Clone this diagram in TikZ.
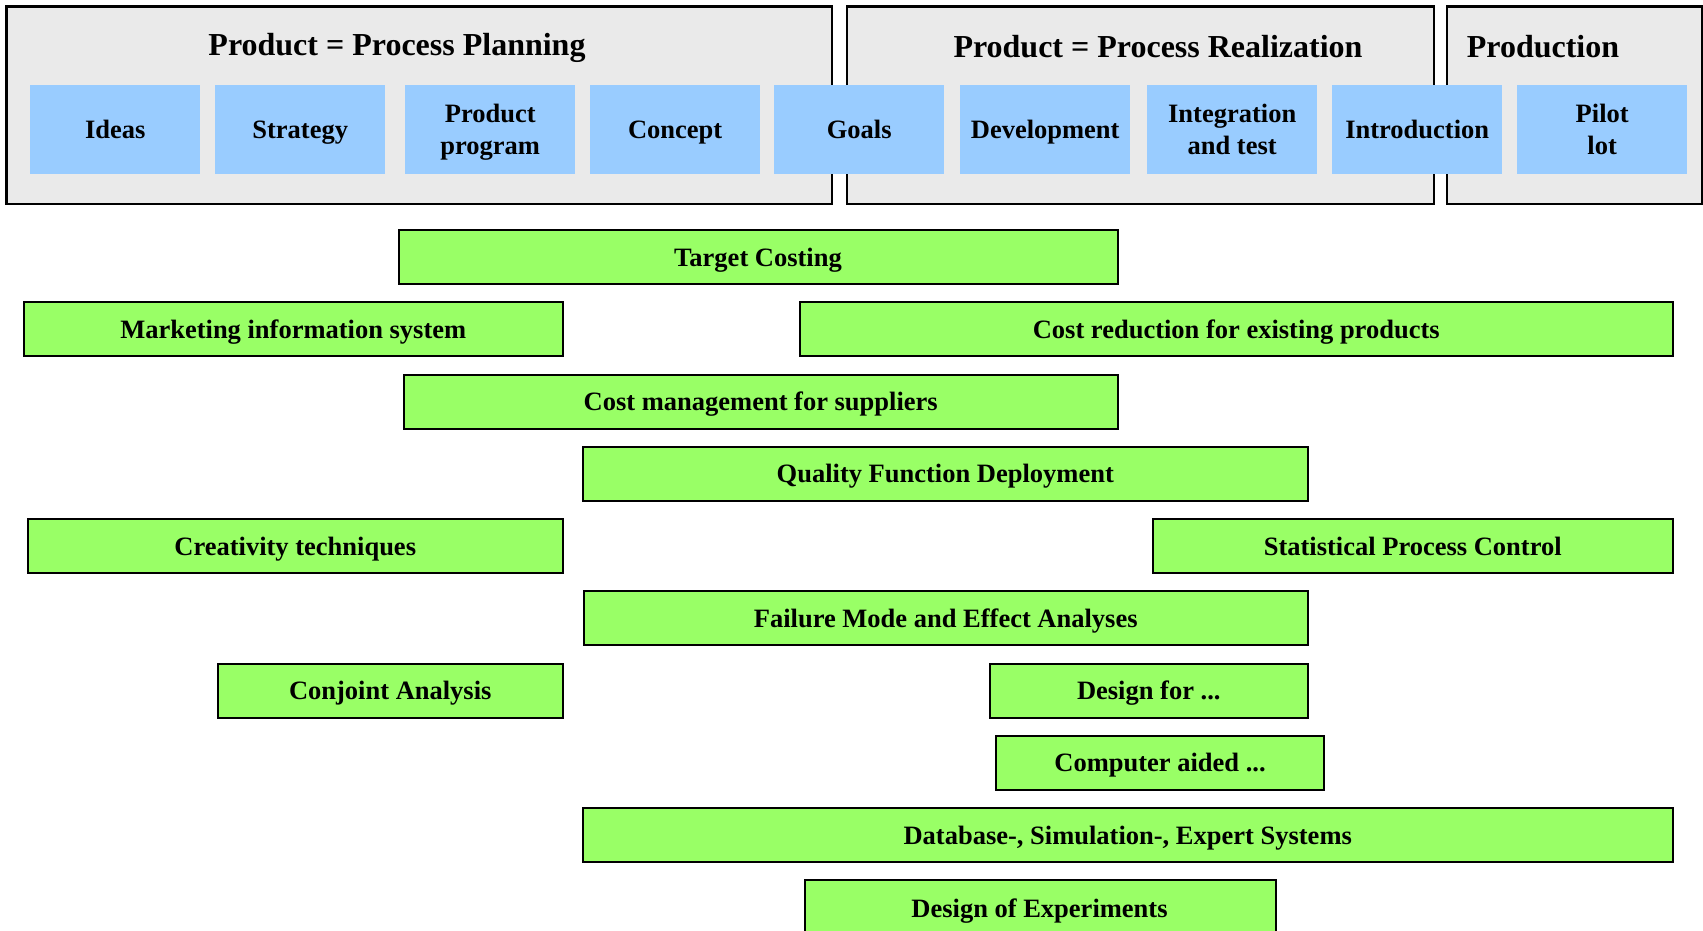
\documentclass[tikz,border=0pt]{standalone}
\usepackage{fontspec}
\setmainfont{Liberation Serif}
\definecolor{panelgray}{HTML}{EAEAEA}
\definecolor{stageblue}{HTML}{99CCFF}
\definecolor{toolgreen}{HTML}{99FF66}
\begin{document}
\begin{tikzpicture}[x=1pt,y=-1pt,
  panel/.style={draw=black,fill=panelgray,line width=2.5pt},
  paneltitle/.style={font=\fontsize{32}{36}\selectfont\bfseries,inner sep=0pt,text height=22pt,text depth=7pt},
  stage/.style={fill=stageblue,draw=none,anchor=north west,minimum width=170pt,minimum height=89pt,inner sep=0pt,align=center,text height=22pt,text depth=4pt,font=\fontsize{26.5}{32.5}\selectfont\bfseries},
  twoline/.style={text height=54.5pt},
  tool/.style={fill=toolgreen,draw=black,line width=2pt,anchor=north west,minimum height=54pt,inner sep=0pt,text height=22pt,text depth=4pt,font=\fontsize{26.5}{30}\selectfont\bfseries}]
\useasboundingbox (0,0) rectangle (1703,930);
\begin{scope}
\clip (0,0) rectangle (1703,930);
% panels
\draw[panel] (6.5,6.5) rectangle (832,204);
\draw[panel] (847,6.5) rectangle (1434,204);
\draw[panel] (1447,6.5) rectangle (1702,204);
\node[paneltitle] (t1) at (397,47.7) {Product = Process Planning};
\node[paneltitle] (t2) at (1158,49.7) {Product = Process Realization};
\node[paneltitle] (t3) at (1543,49.7) {Production};
% stages
\node[stage] (s1) at (30,85) {Ideas};
\node[stage] (s2) at (215,85) {Strategy};
\node[stage,twoline] (s3) at (405,85) {Product\\program};
\node[stage] (s4) at (590,85) {Concept};
\node[stage] (s5) at (774,85) {Goals};
\node[stage] (s6) at (960,85) {Development};
\node[stage,twoline] (s7) at (1147,85) {Integration\\and test};
\node[stage] (s8) at (1332,85) {Introduction};
\node[stage,twoline] (s9) at (1517,85) {Pilot\\lot};
% tools
\node[tool,minimum width=719pt] (tc) at (397.5,229) {Target Costing};
\node[tool,minimum width=538.5pt] (mis) at (23,301) {Marketing information system};
\node[tool,minimum width=872.5pt] (cr) at (799,301) {Cost reduction for existing products};
\node[tool,minimum width=713.5pt] (cm) at (403,373.5) {Cost management for suppliers};
\node[tool,minimum width=724.5pt] (qfd) at (582,445.5) {Quality Function Deployment};
\node[tool,minimum width=534.5pt] (ct) at (27,518) {Creativity techniques};
\node[tool,minimum width=519.5pt] (spc) at (1152,518) {Statistical Process Control};
\node[tool,minimum width=723.5pt] (fmea) at (583,590) {Failure Mode and Effect Analyses};
\node[tool,minimum width=344.5pt] (ca) at (217,662.5) {Conjoint Analysis};
\node[tool,minimum width=317.5pt] (df) at (989,662.5) {Design for ...};
\node[tool,minimum width=328pt] (cad) at (995,734.5) {Computer aided ...};
\node[tool,minimum width=1089.5pt] (db) at (582,807) {Database-, Simulation-, Expert Systems};
\node[tool,minimum width=471pt,minimum height=70pt,anchor=north west] (doe) at (804,879) {};
\node[inner sep=0pt,text height=22pt,text depth=4pt,font=\fontsize{26.5}{30}\selectfont\bfseries] (doet) at (1039.5,908) {Design of Experiments};
\end{scope}
\end{tikzpicture}
\end{document}
